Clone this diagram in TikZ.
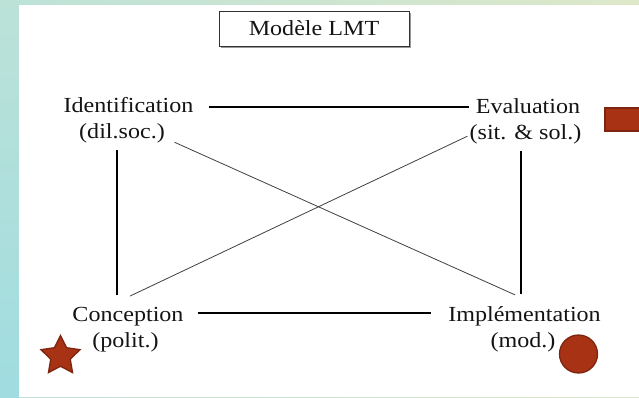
\documentclass[tikz,border=0pt]{standalone}
\usepackage{fontspec}
\setmainfont{Liberation Serif}[FakeStretch=1.12]
\usetikzlibrary{shapes.geometric}
\definecolor{bgA}{HTML}{BCE2D8}
\definecolor{bgB}{HTML}{DDE8C8}
\definecolor{bgC}{HTML}{A0DCE0}
\definecolor{txt}{HTML}{141414}
\definecolor{rust}{HTML}{A83214}
\definecolor{rustdark}{HTML}{7E2510}
\begin{document}
\begin{tikzpicture}[x=1pt,y=-1pt,
  lbl/.style={align=center, inner sep=0pt, text=txt, font=\fontsize{21.5}{26}\selectfont},
  bold line/.style={line width=2.2pt, draw=black},
  thin line/.style={line width=0.8pt, draw=black!75},
  deco/.style={fill=rust, draw=rustdark, line width=1.3pt}]
\useasboundingbox (0,0) rectangle (639,397);
\clip (0,0) rectangle (639,397);
% background frame
\fill[left color=bgA, right color=bgB] (0,0) rectangle (639,397);
\fill[top color=bgA, bottom color=bgC] (0,0) rectangle (19,397);
\fill[white] (19,5) rectangle (639,397);
% title
\fill[black!40] (221,13) rectangle (410.5,47.5);
\node[lbl, draw=black!80, fill=white, line width=1pt, minimum width=190pt, minimum height=35pt] (title) at (314,28.5) {Modèle LMT};
% nodes (base = baseline of the last line)
\node[lbl, anchor=base] (id) at (128.5,138) {Identification\\(dil.soc.)\hspace*{13pt}};
\node[lbl, anchor=base] (ev) at (525.5,139) {\hspace*{5pt}Evaluation\\(sit. \& sol.)};
\node[lbl, anchor=base] (co) at (128,347) {Conception\\(polit.)\hspace*{5pt}};
\node[lbl, anchor=base] (im) at (524.5,347) {Implémentation\\(mod.)\hspace*{3pt}};
% connectors
\coordinate (t1) at ([shift={(15,10)}]id.north east);
\draw[bold line] (t1) -- (t1 -| ev.west);
\coordinate (b1) at ([shift={(14,6.5)}]co.north east);
\draw[bold line] (b1) -- ([xshift=-17pt]b1 -| im.west);
\coordinate (l1) at ([shift={(-11.5,7.5)}]id.south);
\draw[bold line] (l1) -- ([yshift=11.5pt]l1 |- co.north);
\coordinate (r1) at ([shift={(-4.5,7)}]ev.south);
\draw[bold line] (r1) -- ([yshift=11.5pt]r1 |- im.north);
\draw[thin line] ([shift={(-19,-0.5)}]id.south east) -- ([shift={(-9.5,-11)}]im.north);
\draw[thin line] ([shift={(-2,38.3)}]ev.north west) -- ([shift={(2,-10.5)}]co.north);
% decorations
\draw[deco] (605,108) rectangle (650,131);
\node[deco, star, star points=5, star point ratio=2.0, minimum size=41pt, inner sep=0pt] (starmark) at (60.5,356) {};
\node[deco, circle, minimum size=38pt, inner sep=0pt] (dot) at (578.5,354) {};
\end{tikzpicture}
\end{document}
